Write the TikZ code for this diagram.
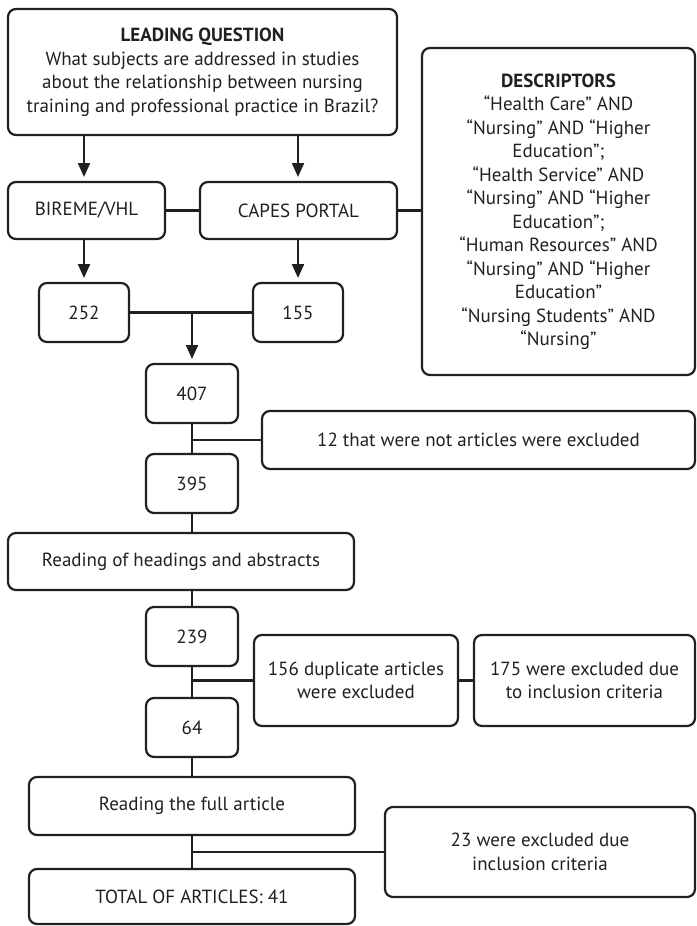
\documentclass[tikz,border=0pt]{standalone}
\usepackage{fontspec}
\setmainfont{PT Sans}
\usepackage{xcolor}
\usepackage{tikz}
\usetikzlibrary{arrows.meta, positioning}

\definecolor{inkgray}{HTML}{231F20}

\tikzset{
  box/.style={draw=inkgray, rounded corners=8pt, line width=2.2pt, align=center,
    inner sep=2pt, outer sep=0pt, text=inkgray, font=\fontsize{19}{23.5}\selectfont},
  numbox/.style={box, minimum width=92pt, minimum height=59pt},
  arr/.style={draw=inkgray, line width=2.2pt, -{Triangle[length=14pt,width=12pt]}, shorten >=5pt},
  con/.style={draw=inkgray, line width=2.2pt},
}

\begin{document}
\begin{tikzpicture}[x=1pt, y=-1pt]
            \useasboundingbox (0,0) rectangle (696,926);
            \node[box, minimum width=389pt, minimum height=126pt](lq) at (202.5,72) {\textbf{LEADING QUESTION}\\What subjects are addressed in studies\\about the relationship between nursing\\training and professional practice in Brazil?};
            \node[box, minimum width=273pt, minimum height=327pt](desc) at (558.5,211.5) {\textbf{DESCRIPTORS}\\“Health Care” AND\\“Nursing” AND “Higher\\Education”;\\“Health Service” AND\\“Nursing” AND “Higher\\Education”;\\“Human Resources” AND\\“Nursing” AND “Higher\\Education”\\“Nursing Students” AND\\“Nursing”};
            \node[box, minimum width=157pt, minimum height=57pt](bireme) at (86.5,210.5) {BIREME/VHL};
            \node[box, minimum width=197pt, minimum height=57pt](capes) at (298.5,210.5) {CAPES PORTAL};
            \node[numbox, minimum width=90pt](n252) at (84,312.5) {252};
            \node[numbox, minimum width=90pt](n155) at (298,312.5) {155};
            \node[numbox](n407) at (192,393.5) {407};
            \node[box, minimum width=433pt, minimum height=58pt](ex12) at (478.5,440) {12 that were not articles were excluded};
            \node[numbox](n395) at (192,483.5) {395};
            \node[box, minimum width=346pt, minimum height=57pt](head) at (181,561.5) {Reading of headings and abstracts};
            \node[numbox](n239) at (192,636.5) {239};
            \node[box, minimum width=204pt, minimum height=91pt](dup) at (356,680.5) {156 duplicate articles\\were excluded};
            \node[box, minimum width=221pt, minimum height=91pt](incl) at (584.5,680.5) {175 were excluded due\\to inclusion criteria};
            \node[numbox](n64) at (192,727.5) {64};
            \node[box, minimum width=326pt, minimum height=58pt](full) at (192,806) {Reading the full article};
            \node[box, minimum width=310pt, minimum height=90pt](ex23) at (540,852) {23 were excluded due\\inclusion criteria};
            \node[box, minimum width=326pt, minimum height=55pt](total) at (192,896.5) {TOTAL OF ARTICLES: 41};
            \coordinate (j1) at (n407 |- n252);
            \draw[arr] (lq.south -| n252) -- (bireme.north -| n252);
            \draw[arr] (lq.south -| n155) -- (capes.north -| n155);
            \draw[con] (bireme) -- (capes);
            \draw[con] (capes) -- (capes -| desc.west);
            \draw[arr] (bireme.south -| n252) -- (n252);
            \draw[arr] (capes.south -| n155) -- (n155);
            \draw[con] (n252) -- (n155);
            \draw[arr] (j1) -- (n407);
            \draw[con] (n407) -- (n395);
            \draw[con] (n407 |- ex12) -- (ex12);
            \draw[con] (n395) -- (n395 |- head.north);
            \draw[con] (n239 |- head.south) -- (n239);
            \draw[con] (n239) -- (n64);
            \draw[con] (n239 |- dup) -- (dup);
            \draw[con] (dup) -- (incl);
            \draw[con] (n64) -- (full);
            \draw[con] (full) -- (total);
            \draw[con] (full |- ex23) -- (ex23);
        \end{tikzpicture}
\end{document}
